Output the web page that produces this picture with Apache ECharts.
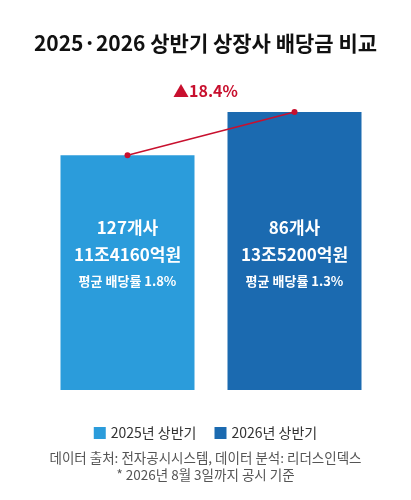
<!DOCTYPE html>
<html><head><meta charset="utf-8">
<script src="https://cdn.jsdelivr.net/npm/echarts@6/dist/echarts.min.js"></script>
<style>html,body{margin:0;padding:0;background:#fff}#c{width:411px;height:500px}</style>
</head><body><div id="c"></div>
<script>
const categories = ['2025년 상반기', '2026년 상반기'];
const dividendTrillion = [11.416, 13.52];
const companies = ['127개사', '86개사'];
const amountLabels = ['11조4160억원', '13조5200억원'];
const yieldLabels = ['평균 배당률 1.8%', '평균 배당률 1.3%'];
const colors = ['#2B9CDB', '#1B6AB0'];
const growthLabel = '▲18.4%';
const F = '"Noto Sans CJK KR","Noto Sans",sans-serif';
const chart = echarts.init(document.getElementById('c'));
function barSeries(i) {
  return {
    name: categories[i], type: 'bar', barWidth: 134, barGap: '-100%',
    itemStyle: { color: colors[i] },
    data: categories.map((c, j) => j === i ? dividendTrillion[i] : '-'),
    label: {
      show: true, position: 'insideBottom', distance: 96, color: '#fff', fontFamily: F,
      formatter: () => '{a|' + companies[i] + '}\n{a|' + amountLabels[i] + '}\n{b|' + yieldLabels[i] + '}',
      rich: { a: { fontSize: 17, fontWeight: 'bold', lineHeight: 27, color: '#fff', fontFamily: F },
              b: { fontSize: 13, fontWeight: 'bold', lineHeight: 26, color: '#fff', fontFamily: F } }
    },
    z: 2
  };
}
chart.setOption({
  animation: false,
  title: { text: '2025·2026 상반기 상장사 배당금 비교', left: 'center', top: 28,
    textStyle: { fontFamily: F, fontSize: 21, fontWeight: 'bold', color: '#111' } },
  grid: { left: 44, right: 33, top: 61, bottom: 110 },
  xAxis: { type: 'category', data: categories, show: false },
  yAxis: { type: 'value', min: 0, max: 16, show: false },
  legend: { data: categories, bottom: 55, left: 'center', itemWidth: 12, itemHeight: 12, itemGap: 18,
    icon: 'rect', textStyle: { fontFamily: F, fontSize: 14, color: '#333' } },
  series: [barSeries(0), barSeries(1), {
    name: 'growth', type: 'line', data: dividendTrillion, symbol: 'circle', symbolSize: 6,
    lineStyle: { color: '#C8102E', width: 1.5 }, itemStyle: { color: '#C8102E' }, z: 5,
    label: { show: false }
  }],
  graphic: [
    { type: 'text', left: 'center', top: 83, style: { text: growthLabel, fill: '#C8102E', font: 'bold 16px ' + F } },
    { type: 'text', left: 'center', top: 451, style: { text: '데이터 출처: 전자공시시스템, 데이터 분석: 리더스인덱스', fill: '#555', font: '13.5px ' + F } },
    { type: 'text', left: 'center', top: 468, style: { text: '* 2026년 8월 3일까지 공시 기준', fill: '#555', font: '13.5px ' + F } }
  ]
});
</script></body></html>
